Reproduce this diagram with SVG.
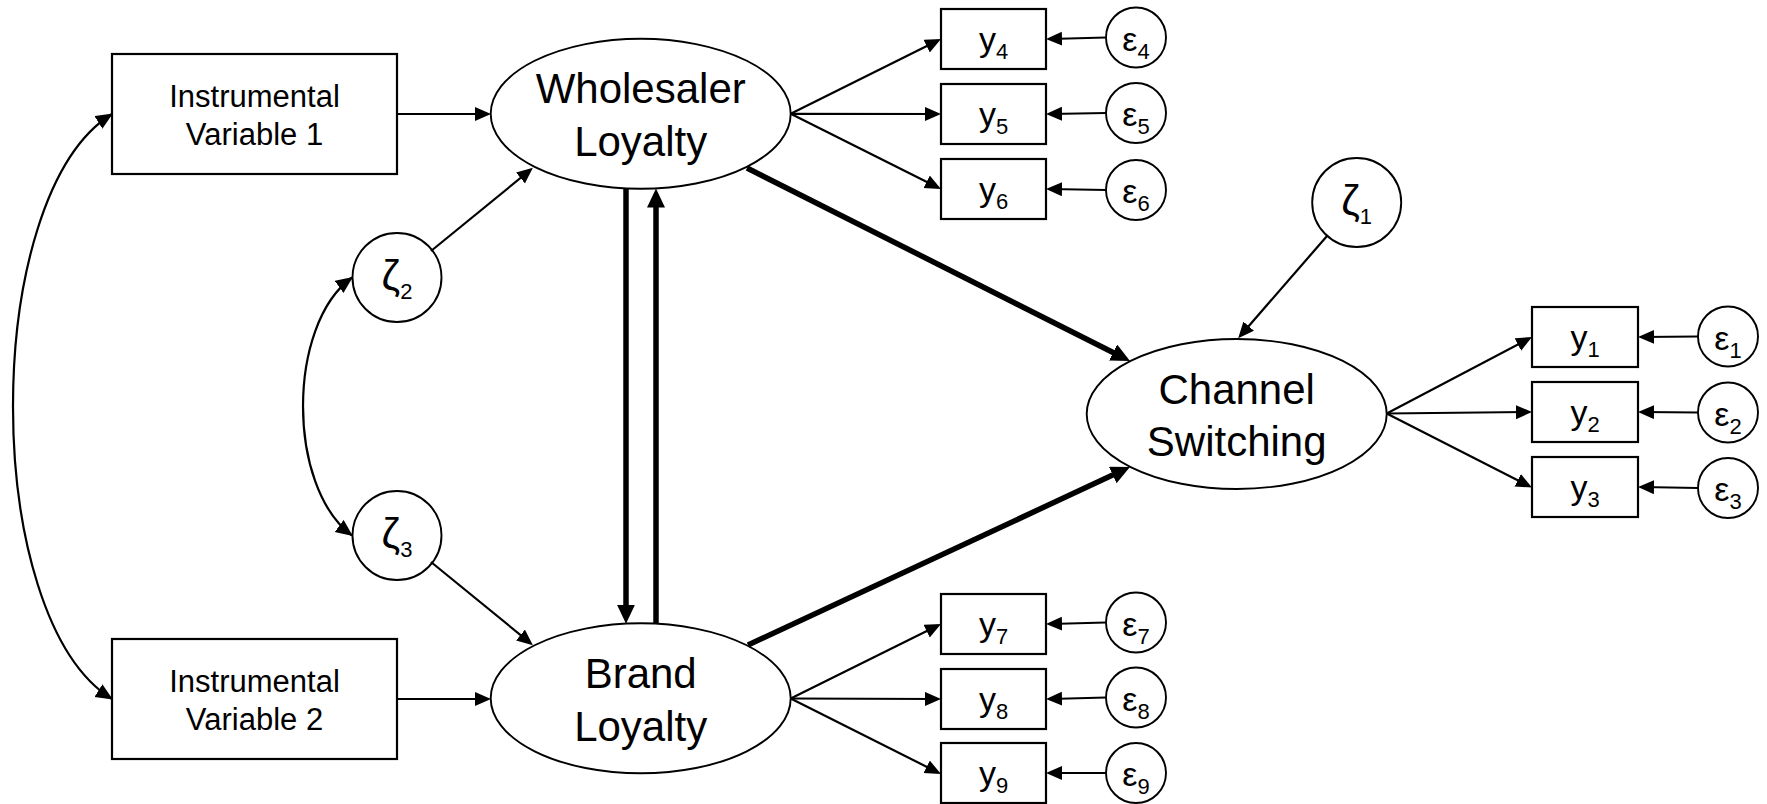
<svg xmlns="http://www.w3.org/2000/svg" width="1767" height="804" viewBox="0 0 1767 804">
  <style>
    text { font-family: "Liberation Sans", Arial, sans-serif; fill: #000; text-anchor: middle; }
    .lbl { font-size: 31px; }
    .lat { font-size: 42px; }
    .m { font-size: 34px; }
    .z { font-size: 42px; }
    .s { font-size: 22px; }
    .box { fill: #fff; stroke: #000; stroke-width: 2.2; }
    .ell { fill: #fff; stroke: #000; stroke-width: 1.9; }
    .thin { fill: none; stroke: #000; stroke-width: 2.2; marker-end: url(#ah); }
    .thick { fill: none; stroke: #000; stroke-width: 5.5; marker-end: url(#ahT); }
    .cov { fill: none; stroke: #000; stroke-width: 2.2; marker-start: url(#ahC); marker-end: url(#ahC); }
  </style>
  <defs>
    <marker id="ah" markerUnits="userSpaceOnUse" markerWidth="17" markerHeight="15" refX="12" refY="7" orient="auto">
      <path d="M0,0 L16,7 L0,14 z" fill="#000"/>
    </marker>
    <marker id="ahC" markerUnits="userSpaceOnUse" markerWidth="18" markerHeight="16" refX="16" refY="7.5" orient="auto-start-reverse">
      <path d="M0,0 L17,7.5 L0,15 z" fill="#000"/>
    </marker>
    <marker id="ahT" markerUnits="userSpaceOnUse" markerWidth="20" markerHeight="19" refX="10" refY="9" orient="auto">
      <path d="M0,0 L19,9 L0,18 z" fill="#000"/>
    </marker>
  </defs>
  <rect width="1767" height="804" fill="#fff"/>

  <!-- instrumental variables -->
  <g id="iv1">
    <rect class="box" x="112" y="54" width="285" height="120"/>
    <text class="lbl" x="254.5" y="107">Instrumental</text>
    <text class="lbl" x="254.5" y="145">Variable 1</text>
  </g>
  <g id="iv2">
    <rect class="box" x="112" y="639" width="285" height="120"/>
    <text class="lbl" x="254.5" y="692">Instrumental</text>
    <text class="lbl" x="254.5" y="730">Variable 2</text>
  </g>

  <!-- latent constructs -->
  <g id="wholesaler-loyalty">
    <ellipse class="ell" cx="640.7" cy="113.8" rx="150" ry="75"/>
    <text class="lat" x="640.7" y="103">Wholesaler</text>
    <text class="lat" x="640.7" y="156">Loyalty</text>
  </g>
  <g id="brand-loyalty">
    <ellipse class="ell" cx="640.7" cy="698.3" rx="150" ry="75"/>
    <text class="lat" x="640.7" y="688">Brand</text>
    <text class="lat" x="640.7" y="741">Loyalty</text>
  </g>
  <g id="channel-switching">
    <ellipse class="ell" cx="1236.7" cy="414" rx="150" ry="75"/>
    <text class="lat" x="1236.7" y="403.5">Channel</text>
    <text class="lat" x="1236.7" y="455.5">Switching</text>
  </g>

  <!-- disturbances -->
  <g id="zeta1">
    <circle class="ell" cx="1356.7" cy="202.5" r="44.5"/>
    <text class="z" x="1356.7" y="215">ζ<tspan class="s" dy="9">1</tspan></text>
  </g>
  <g id="zeta2">
    <circle class="ell" cx="397" cy="277.5" r="44.5"/>
    <text class="z" x="397" y="290">ζ<tspan class="s" dy="9">2</tspan></text>
  </g>
  <g id="zeta3">
    <circle class="ell" cx="397" cy="535.5" r="44.5"/>
    <text class="z" x="397" y="548">ζ<tspan class="s" dy="9">3</tspan></text>
  </g>

  <!-- indicators of wholesaler loyalty -->
  <g id="y4"><rect class="box" x="941" y="9" width="105" height="60"/><text class="m" x="993.5" y="50.7">y<tspan class="s" dy="8.5">4</tspan></text></g>
  <g id="y5"><rect class="box" x="941" y="84" width="105" height="60"/><text class="m" x="993.5" y="125.7">y<tspan class="s" dy="8.5">5</tspan></text></g>
  <g id="y6"><rect class="box" x="941" y="159" width="105" height="60"/><text class="m" x="993.5" y="200.7">y<tspan class="s" dy="8.5">6</tspan></text></g>
  <!-- indicators of brand loyalty -->
  <g id="y7"><rect class="box" x="941" y="594" width="105" height="60"/><text class="m" x="993.5" y="635.7">y<tspan class="s" dy="8.5">7</tspan></text></g>
  <g id="y8"><rect class="box" x="941" y="669" width="105" height="60"/><text class="m" x="993.5" y="710.7">y<tspan class="s" dy="8.5">8</tspan></text></g>
  <g id="y9"><rect class="box" x="941" y="743" width="105" height="60"/><text class="m" x="993.5" y="784.7">y<tspan class="s" dy="8.5">9</tspan></text></g>
  <!-- indicators of channel switching -->
  <g id="y1"><rect class="box" x="1532" y="307" width="106" height="60"/><text class="m" x="1585" y="348.7">y<tspan class="s" dy="8.5">1</tspan></text></g>
  <g id="y2"><rect class="box" x="1532" y="382" width="106" height="60"/><text class="m" x="1585" y="423.7">y<tspan class="s" dy="8.5">2</tspan></text></g>
  <g id="y3"><rect class="box" x="1532" y="457" width="106" height="60"/><text class="m" x="1585" y="498.7">y<tspan class="s" dy="8.5">3</tspan></text></g>

  <!-- measurement errors -->
  <g id="eps4"><circle class="ell" cx="1136" cy="37.5" r="30"/><text class="m" x="1136" y="50.5">ε<tspan class="s" dy="8">4</tspan></text></g>
  <g id="eps5"><circle class="ell" cx="1136" cy="113" r="30"/><text class="m" x="1136" y="126">ε<tspan class="s" dy="8">5</tspan></text></g>
  <g id="eps6"><circle class="ell" cx="1136" cy="190" r="30"/><text class="m" x="1136" y="203">ε<tspan class="s" dy="8">6</tspan></text></g>
  <g id="eps7"><circle class="ell" cx="1136" cy="622.5" r="30"/><text class="m" x="1136" y="635.5">ε<tspan class="s" dy="8">7</tspan></text></g>
  <g id="eps8"><circle class="ell" cx="1136" cy="697.5" r="30"/><text class="m" x="1136" y="710.5">ε<tspan class="s" dy="8">8</tspan></text></g>
  <g id="eps9"><circle class="ell" cx="1136" cy="773" r="30"/><text class="m" x="1136" y="786">ε<tspan class="s" dy="8">9</tspan></text></g>
  <g id="eps1"><circle class="ell" cx="1728" cy="336.5" r="30"/><text class="m" x="1728" y="349.5">ε<tspan class="s" dy="8">1</tspan></text></g>
  <g id="eps2"><circle class="ell" cx="1728" cy="412.5" r="30"/><text class="m" x="1728" y="425.5">ε<tspan class="s" dy="8">2</tspan></text></g>
  <g id="eps3"><circle class="ell" cx="1728" cy="488" r="30"/><text class="m" x="1728" y="501">ε<tspan class="s" dy="8">3</tspan></text></g>

  <g id="connectors">
    <!-- covariances -->
    <path class="cov" d="M112,114 C-20,196 -20,617 112,699"/>
    <path class="cov" d="M352,277.5 C286.7,325 286.7,487 352,535.5"/>

    <!-- instruments and disturbances -->
    <line class="thin" x1="397" y1="114" x2="487" y2="114"/>
    <line class="thin" x1="397" y1="699" x2="487" y2="699"/>
    <line class="thin" x1="431" y1="251" x2="529.8" y2="170.4"/>
    <line class="thin" x1="431" y1="562" x2="529.8" y2="642.6"/>
    <line class="thin" x1="1327" y1="236" x2="1240.8" y2="335.2"/>

    <!-- structural paths -->
    <line class="thick" x1="626" y1="188.5" x2="626" y2="614.7"/>
    <line class="thick" x1="656" y1="623.7" x2="656" y2="197.5"/>
    <line class="thick" x1="747" y1="168" x2="1122" y2="357"/>
    <line class="thick" x1="748" y1="645" x2="1121.8" y2="470.8"/>

    <!-- loadings -->
    <line class="thin" x1="790.7" y1="113.8" x2="937.4" y2="40.8"/>
    <line class="thin" x1="790.7" y1="113.8" x2="937" y2="114"/>
    <line class="thin" x1="790.7" y1="113.8" x2="937.4" y2="187.2"/>
    <line class="thin" x1="790.7" y1="698.5" x2="937.4" y2="625.8"/>
    <line class="thin" x1="790.7" y1="698.5" x2="937" y2="699"/>
    <line class="thin" x1="790.7" y1="698.5" x2="937.4" y2="772.2"/>
    <line class="thin" x1="1386.7" y1="413.5" x2="1528.5" y2="338.9"/>
    <line class="thin" x1="1386.7" y1="413.5" x2="1528" y2="412"/>
    <line class="thin" x1="1386.7" y1="413.5" x2="1528.4" y2="485.7"/>

    <!-- errors -->
    <line class="thin" x1="1106" y1="37.5" x2="1050" y2="39"/>
    <line class="thin" x1="1106" y1="113" x2="1050" y2="114"/>
    <line class="thin" x1="1106" y1="190" x2="1050" y2="189"/>
    <line class="thin" x1="1106" y1="622.5" x2="1050" y2="624"/>
    <line class="thin" x1="1106" y1="697.5" x2="1050" y2="699"/>
    <line class="thin" x1="1106" y1="773" x2="1050" y2="773"/>
    <line class="thin" x1="1698" y1="336.5" x2="1642" y2="337"/>
    <line class="thin" x1="1698" y1="412.5" x2="1642" y2="412"/>
    <line class="thin" x1="1698" y1="488" x2="1642" y2="487"/>
  </g>
</svg>
